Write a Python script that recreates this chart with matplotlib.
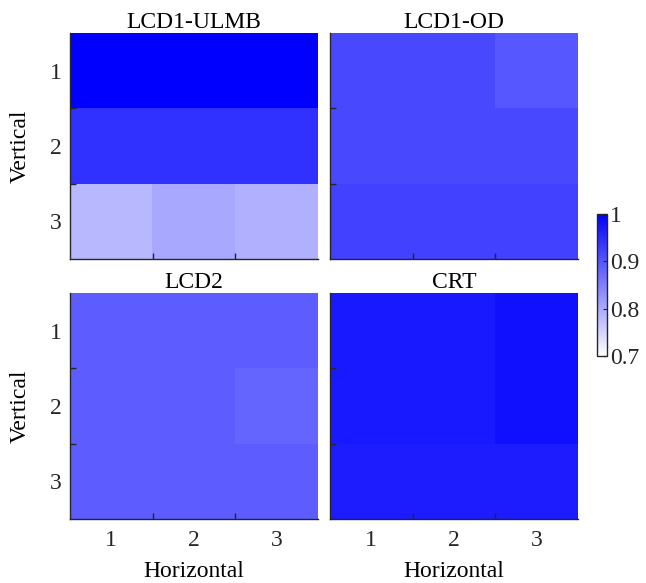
import numpy as np
import matplotlib
matplotlib.use("Agg")
import matplotlib.pyplot as plt
from matplotlib.colors import LinearSegmentedColormap

plt.rcParams['font.family'] = ['Liberation Serif', 'DejaVu Serif']

titles = ["LCD1-ULMB", "LCD1-OD", "LCD2", "CRT"]
tick_labels = ["1", "2", "3"]
lcd1_ulmb = [[1.000, 1.000, 1.000],
             [0.941, 0.941, 0.941],
             [0.784, 0.802, 0.793]]
lcd1_od = [[0.915, 0.915, 0.897],
           [0.915, 0.915, 0.915],
           [0.922, 0.922, 0.922]]
lcd2 = [[0.892, 0.892, 0.892],
        [0.892, 0.892, 0.882],
        [0.892, 0.892, 0.892]]
crt = [[0.969, 0.969, 0.981],
       [0.969, 0.969, 0.981],
       [0.967, 0.967, 0.967]]
datasets = [lcd1_ulmb, lcd1_od, lcd2, crt]
vmin, vmax = 0.7, 1.0
cbar_ticks = [0.7, 0.8, 0.9, 1.0]
cbar_labels = ["0.7", "0.8", "0.9", "1"]

cmap = LinearSegmentedColormap.from_list("wb", [(1, 1, 1), (0, 0, 1)])

W, H = 646, 583
fig = plt.figure(figsize=(W / 100, H / 100), dpi=100)

def px(x0, y0, x1, y1):
    return [x0 / W, 1 - y1 / H, (x1 - x0) / W, (y1 - y0) / H]

boxes = [px(70, 33, 318, 259), px(330, 33, 578, 259),
         px(70, 293, 318, 519), px(330, 293, 578, 519)]
spine_col = "#262626"
fs = 17
im = None
for i, (box, data, title) in enumerate(zip(boxes, datasets, titles)):
    ax = fig.add_axes(box)
    im = ax.imshow(np.array(data), cmap=cmap, vmin=vmin, vmax=vmax,
                   extent=(0.5, 3.5, 3.5, 0.5), aspect='auto',
                   interpolation='nearest')
    ax.set_xlim(0.5, 3.5)
    ax.set_ylim(3.5, 0.5)
    ax.set_title(title, fontsize=fs, pad=3)
    for s in ["top", "right"]:
        ax.spines[s].set_visible(False)
    for s in ["left", "bottom"]:
        ax.spines[s].set_color(spine_col)
        ax.spines[s].set_linewidth(1.0)
    ax.set_xticks([1, 2, 3])
    ax.set_yticks([1, 2, 3])
    ax.set_xticks([1.5, 2.5], minor=True)
    ax.set_yticks([1.5, 2.5], minor=True)
    ax.tick_params(axis='x', which='major', length=0, labelsize=fs, colors=spine_col, pad=8)
    ax.tick_params(axis='y', which='major', length=0, labelsize=fs, colors=spine_col, pad=6)
    ax.tick_params(which='minor', length=4, direction='in', color=spine_col, width=1)
    if i in (0, 2):
        ax.set_yticklabels(tick_labels)
        ax.set_ylabel("Vertical", fontsize=fs, labelpad=14)
    else:
        ax.set_yticklabels([])
    if i in (2, 3):
        ax.set_xticklabels(tick_labels)
        ax.set_xlabel("Horizontal", fontsize=fs, labelpad=7)
    else:
        ax.set_xticklabels([])

cax = fig.add_axes(px(597, 214, 607, 356))
cb = fig.colorbar(im, cax=cax, ticks=cbar_ticks)
cb.ax.set_yticklabels(cbar_labels)
cb.ax.tick_params(labelsize=fs, direction='in', length=3, colors=spine_col, pad=2)
cb.outline.set_edgecolor(spine_col)
cb.outline.set_linewidth(1.0)

fig.savefig("out.png", dpi=100)
